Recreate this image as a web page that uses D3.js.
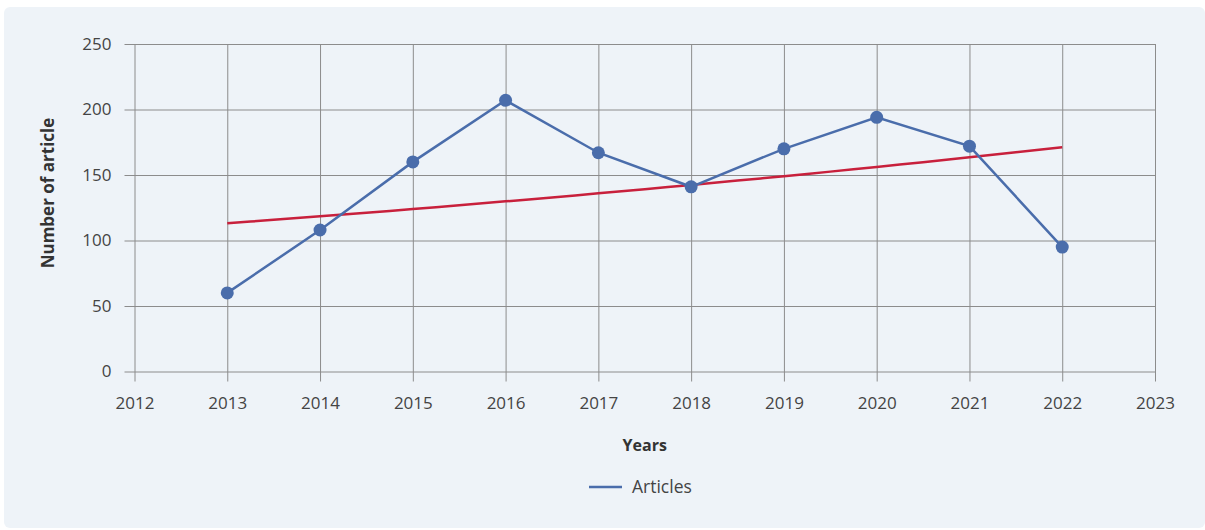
<!DOCTYPE html>
<html>
<head>
<meta charset="utf-8">
<script src="https://cdn.jsdelivr.net/npm/d3@7"></script>
<style>
  html, body { margin: 0; padding: 0; background: #ffffff; }
  svg { display: block; }
  svg text { font-family: "Open Sans", "Noto Sans", sans-serif; }
</style>
</head>
<body>
<svg id="chart"></svg>
<script>
var years = [2013, 2014, 2015, 2016, 2017, 2018, 2019, 2020, 2021, 2022];
var articles = [60, 108, 160, 207, 167, 141, 170, 194, 172, 95];
var xTicks = [2012, 2013, 2014, 2015, 2016, 2017, 2018, 2019, 2020, 2021, 2022, 2023];
var yTicks = [0, 50, 100, 150, 200, 250];

// exponential trendline (least squares on log values), like a spreadsheet's
function expFit(xs, ys){
  var lx = xs.map(function(v){ return v - xs[0]; });
  var ly = ys.map(function(v){ return Math.log(v); });
  var mx = d3.mean(lx), my = d3.mean(ly);
  var sxy = d3.sum(lx, function(v, i){ return (v - mx) * (ly[i] - my); });
  var sxx = d3.sum(lx, function(v){ return (v - mx) * (v - mx); });
  var b = sxy / sxx;
  var a = my - b * mx;
  return function(x){ return Math.exp(a + b * (x - xs[0])); };
}

function drawChart(){
  var width = 1205;
  var height = 530;
  var blue = '#4a6dab';
  var red = '#c8203c';
  var gridColor = '#8c8c8c';

  var svg = d3.select('#chart')
    .attr('width', width)
    .attr('height', height);

  svg.append('rect')
    .attr('x', 4).attr('y', 7)
    .attr('width', width - 4).attr('height', 521)
    .attr('rx', 6)
    .attr('fill', '#eef3f8');

  var x = d3.scaleLinear().domain([2012, 2023]).range([134.5, 1155]);
  var y = d3.scaleLinear().domain([0, 250]).range([371.5, 44]);

  // horizontal grid + y axis
  var yAxis = svg.append('g')
    .attr('transform', 'translate(' + x(2012) + ',0)')
    .call(d3.axisLeft(y).tickValues(yTicks).tickSize(10).tickPadding(13));
  yAxis.attr('font-family', null);
  yAxis.select('.domain').remove();
  yAxis.selectAll('.tick line')
    .attr('x1', -10)
    .attr('x2', x(2023) - x(2012))
    .attr('stroke', gridColor);
  yAxis.selectAll('.tick text')
    .attr('fill', '#444').style('font-size', '17px');

  // vertical grid + x axis
  var xAxis = svg.append('g')
    .attr('transform', 'translate(0,' + y(0) + ')')
    .call(d3.axisBottom(x).tickValues(xTicks).tickFormat(d3.format('d')).tickSize(10).tickPadding(15));
  xAxis.attr('font-family', null);
  xAxis.select('.domain').remove();
  xAxis.selectAll('.tick line')
    .attr('y1', y(250) - y(0))
    .attr('y2', 10)
    .attr('stroke', gridColor);
  xAxis.selectAll('.tick text')
    .attr('fill', '#444').style('font-size', '17px');

  var line = d3.line()
    .x(function(d) { return x(d[0]); })
    .y(function(d) { return y(d[1]); });

  // trend line
  var trend = expFit(years, articles);
  var trendPts = d3.range(years[0], years[years.length - 1] + 0.001, 0.25)
    .map(function(t){ return [t, trend(t)]; });

  svg.append('path')
    .datum(trendPts)
    .attr('d', line)
    .attr('fill', 'none')
    .attr('stroke', red)
    .attr('stroke-width', 2.5);

  var series = d3.zip(years, articles);

  svg.append('path')
    .datum(series)
    .attr('d', line)
    .attr('fill', 'none')
    .attr('stroke', blue)
    .attr('stroke-width', 2.5);

  svg.append('g')
    .selectAll('circle')
    .data(series)
    .enter().append('circle')
    .attr('cx', function(d) { return x(d[0]); })
    .attr('cy', function(d) { return y(d[1]); })
    .attr('r', 6.5)
    .attr('fill', blue);

  // axis titles
  svg.append('text')
    .attr('transform', 'translate(54,193) rotate(-90)')
    .attr('text-anchor', 'middle')
    .attr('fill', '#333')
    .style('font-size', '17px')
    .style('font-weight', 'bold')
    .text('Number of article');

  svg.append('text')
    .attr('x', (x(2012) + x(2023)) / 2)
    .attr('y', 451)
    .attr('text-anchor', 'middle')
    .attr('fill', '#333')
    .style('font-size', '16px')
    .style('font-weight', 'bold')
    .text('Years');

  // legend
  var legend = svg.append('g').attr('transform', 'translate(589,487)');
  legend.append('line')
    .attr('x1', 0).attr('x2', 33)
    .attr('stroke', blue).attr('stroke-width', 2.5);
  legend.append('text')
    .attr('x', 43).attr('y', 6)
    .attr('fill', '#444')
    .style('font-size', '17.5px')
    .text('Articles');
}

drawChart();
</script>
</body>
</html>
